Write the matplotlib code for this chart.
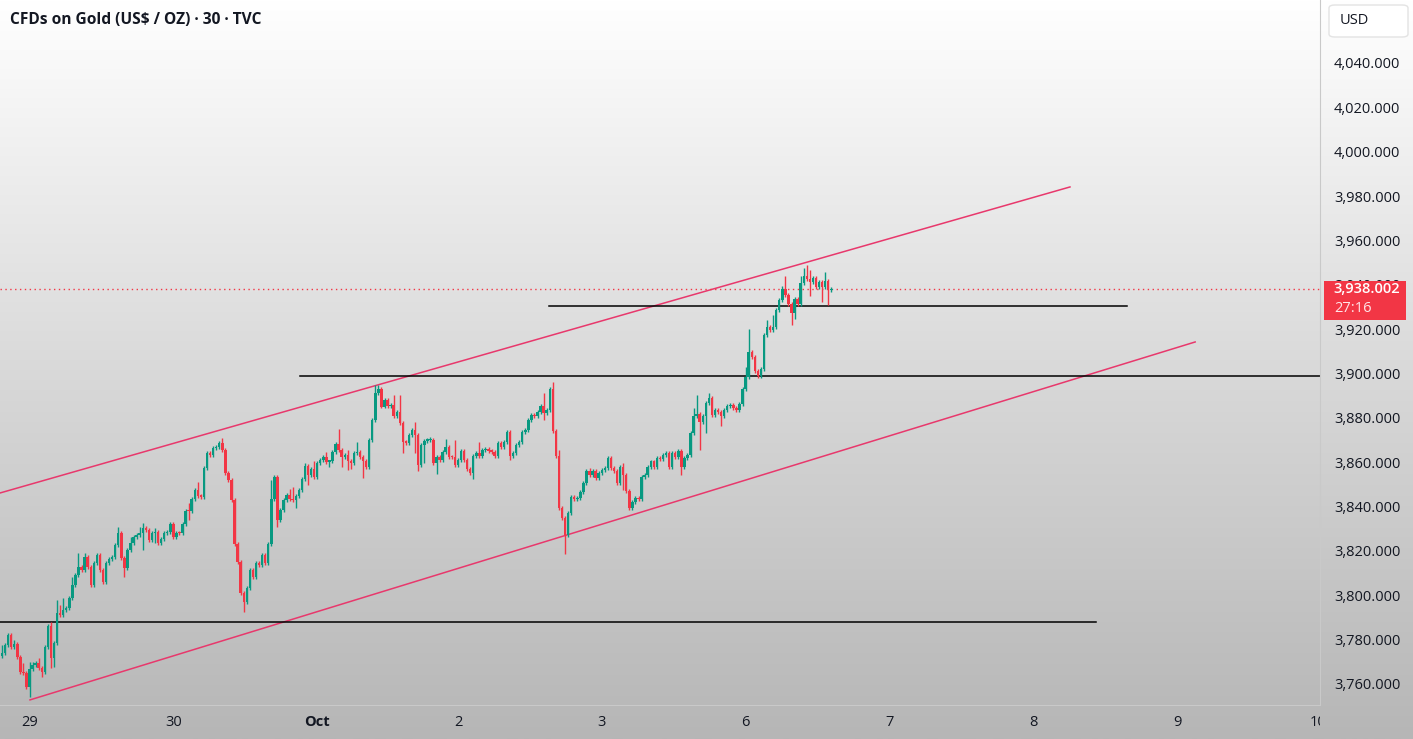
import numpy as np
import matplotlib
matplotlib.use("Agg")
import matplotlib.pyplot as plt
from matplotlib.colors import LinearSegmentedColormap
from matplotlib.patches import FancyBboxPatch, Rectangle
from matplotlib.transforms import blended_transform_factory, Bbox, TransformedBbox

plt.rcParams['font.family'] = ['Open Sans', 'DejaVu Sans']

# 30 min closes (Sep 29 -> Oct 6)
open0 = 3772.6
closes = [
    3773.8, 3777.5, 3782.0, 3776.8, 3778.0, 3772.0, 3765.5, 3764.8, 3758.7, 3766.6,
    3768.5, 3769.6, 3767.0, 3765.5, 3776.8, 3786.1, 3771.5, 3778.3, 3792.1, 3791.1,
    3793.3, 3794.1, 3798.6, 3804.6, 3809.1, 3812.9, 3811.4, 3817.4, 3812.9, 3804.6,
    3814.4, 3818.1, 3811.4, 3806.1, 3814.4, 3816.2, 3817.4, 3822.6, 3827.9, 3816.6,
    3812.1, 3820.4, 3823.4, 3826.4, 3827.1, 3828.2, 3830.2, 3829.4, 3824.9, 3827.9,
    3828.6, 3823.4, 3825.2, 3827.9, 3828.6, 3832.1, 3826.1, 3828.2, 3827.9, 3832.0,
    3838.1, 3838.0, 3843.2, 3847.4, 3844.7, 3844.4, 3857.2, 3864.0, 3863.2, 3866.2,
    3866.7, 3868.8, 3865.5, 3855.0, 3851.9, 3842.9, 3823.1, 3815.1, 3800.8, 3797.1,
    3803.1, 3811.4, 3808.4, 3814.4, 3813.6, 3818.1, 3814.4, 3823.1, 3843.2, 3853.1,
    3833.9, 3838.4, 3842.9, 3845.2, 3843.2, 3842.9, 3844.7, 3847.4, 3852.2, 3858.3,
    3854.2, 3856.8, 3853.4, 3859.5, 3861.0, 3862.2, 3860.2, 3860.3, 3864.8, 3868.2,
    3865.5, 3862.5, 3863.3, 3860.7, 3859.5, 3864.0, 3864.8, 3862.5, 3860.7, 3858.0,
    3870.0, 3879.0, 3891.1, 3892.9, 3885.1, 3888.0, 3885.4, 3885.8, 3880.6, 3882.8,
    3877.6, 3869.3, 3868.8, 3872.3, 3874.5, 3872.3, 3858.5, 3867.8, 3869.7, 3870.0,
    3870.2, 3859.8, 3862.2, 3861.0, 3864.8, 3866.7, 3862.5, 3862.2, 3858.8, 3861.0,
    3865.2, 3861.0, 3856.8, 3855.0, 3862.8, 3864.0, 3862.8, 3865.5, 3865.8, 3865.2,
    3864.8, 3862.8, 3868.5, 3867.0, 3869.3, 3873.6, 3862.8, 3864.0, 3867.8, 3869.3,
    3873.6, 3874.5, 3878.8, 3881.3, 3880.6, 3882.8, 3885.4, 3882.1, 3883.6, 3893.0,
    3874.2, 3862.8, 3839.2, 3834.7, 3827.2, 3837.0, 3844.5, 3843.3, 3844.0, 3846.7,
    3850.5, 3856.2, 3854.3, 3855.8, 3852.8, 3855.3, 3856.5, 3857.3, 3861.8, 3857.3,
    3855.8, 3850.5, 3858.0, 3854.3, 3847.2, 3839.2, 3842.2, 3844.0, 3843.3, 3853.2,
    3854.3, 3858.0, 3860.3, 3858.0, 3861.8, 3861.3, 3863.3, 3864.0, 3858.0, 3864.0,
    3862.2, 3865.2, 3858.0, 3861.8, 3863.3, 3873.3, 3880.6, 3881.8, 3878.3, 3880.6,
    3886.6, 3888.8, 3881.3, 3883.3, 3882.8, 3880.6, 3883.6, 3885.4, 3885.8, 3884.3,
    3883.3, 3886.3, 3892.9, 3898.6, 3909.9, 3907.6, 3901.3, 3898.9, 3901.9, 3917.4,
    3921.1, 3919.6, 3921.1, 3928.7, 3933.2, 3938.0, 3935.4, 3931.4, 3927.2, 3933.5,
    3931.4, 3941.0, 3944.0, 3942.5, 3941.4, 3942.9, 3939.2, 3941.4, 3938.9, 3941.9,
    3937.7, 3938.0,
]

# wick extremes that stick out clearly (candle index: price)
wick_highs = {
    0: 3777.5, 1: 3778.3, 2: 3782.8, 4: 3779.8, 7: 3769.3, 9: 3770.0, 10: 3770.0,
    12: 3771.5, 16: 3788.1, 18: 3797.8, 19: 3795.6, 20: 3798.6, 23: 3808.3,
    25: 3818.9, 27: 3818.9, 38: 3830.9, 42: 3826.4, 45: 3830.9, 46: 3832.4,
    50: 3830.2, 56: 3832.7, 61: 3841.4, 64: 3851.2, 72: 3870.7, 88: 3851.9,
    94: 3847.7, 95: 3848.9, 99: 3859.8, 102: 3860.7, 106: 3864.8, 110: 3874.8,
    113: 3865.5, 116: 3869.3, 122: 3894.8, 123: 3894.8, 128: 3890.3, 130: 3890.3,
    135: 3878.3, 140: 3871.2, 145: 3870.5, 148: 3870.0, 156: 3869.3, 165: 3874.1,
    177: 3891.1, 179: 3893.5, 180: 3896.0, 182: 3865.5, 192: 3857.3, 203: 3859.5,
    226: 3884.3, 227: 3890.3, 231: 3891.1, 243: 3902.8, 244: 3920.1, 250: 3924.1,
    252: 3926.4, 255: 3939.5, 256: 3944.0, 261: 3944.0, 262: 3947.4, 263: 3949.0,
    264: 3946.7, 266: 3944.0, 269: 3945.9,
}
wick_lows = {
    8: 3757.9, 9: 3754.2, 13: 3763.3, 16: 3767.0, 17: 3767.8, 40: 3808.3,
    46: 3820.4, 50: 3823.4, 61: 3833.9, 79: 3792.6, 80: 3797.8, 90: 3830.6,
    96: 3839.2, 100: 3849.7, 107: 3858.0, 111: 3858.0, 113: 3856.5, 114: 3856.8,
    118: 3852.8, 131: 3864.0, 135: 3864.0, 136: 3855.8, 138: 3859.8, 142: 3854.7,
    154: 3852.3, 166: 3861.0, 177: 3879.1, 184: 3818.5, 203: 3847.5, 222: 3854.3,
    228: 3865.5, 230: 3873.0, 235: 3876.3, 258: 3921.9, 259: 3924.4, 264: 3935.0,
    268: 3932.0, 270: 3930.9,
}

day_pos = [9, 56, 103, 149, 196, 243, 290, 337, 384, 430]
day_labels = ['29', '30', 'Oct', '2', '3', '6', '7', '8', '9', '10']

# drawings: (x0, x1, y0, y1)
channel_upper = (-0.65, 349.0, 3846.1, 3984.1)
channel_lower = (9.15, 389.9, 3752.8, 3914.2)
levels = [(3788.0, -0.65, 357.5), (3898.9, 97.4, 431.0), (3930.4, 178.8, 367.6)]

title = "CFDs on Gold (US$ / OZ) · 30 · TVC"
last_label = "3,938.002"
countdown = "27:16"

green = '#089981'
red = '#f23645'
pink = '#e8386c'

W, H = 1413, 739
fig = plt.figure(figsize=(W / 100, H / 100), dpi=100)

# background gradient
bg = fig.add_axes([0, 0, 1, 1], zorder=-10)
grad = np.linspace(0, 1, 256).reshape(-1, 1)
cmap = LinearSegmentedColormap.from_list('bg', ['#ffffff', '#d9d9d9', '#b6b6b6'])
bg.imshow(grad, aspect='auto', cmap=cmap, extent=[0, 1, 0, 1])
bg.axis('off')

ax = fig.add_axes([0, 1 - 705 / H, 1320 / W, 705 / H])
ax.set_facecolor('none')

c = np.array(closes)
o = np.r_[open0, c[:-1]]
x = np.arange(len(c))
hi = np.maximum(o, c) + 0.9
lo = np.minimum(o, c) - 0.9
for k, v in wick_highs.items():
    hi[k] = max(hi[k], v)
for k, v in wick_lows.items():
    lo[k] = min(lo[k], v)
col = np.where(c >= o, green, red)

ax.vlines(x, lo, hi, colors=col, lw=1, zorder=3)
ax.bar(x, np.maximum(np.abs(c - o), 0.6), bottom=np.minimum(o, c), width=0.8,
       color=col, lw=0, zorder=4)

ax.plot(channel_upper[:2], channel_upper[2:], color=pink, lw=1.1, zorder=2)
ax.plot(channel_lower[:2], channel_lower[2:], color=pink, lw=1.1, zorder=2)
for y, x0, x1 in levels:
    ax.plot([x0, x1], [y, y], color='black', lw=1.1, zorder=2)
ax.axhline(c[-1], color=red, lw=1, ls=(0, (1, 2.5)), zorder=2)

ax.set_xlim(-0.65, 430.7)
ax.set_ylim(3750.5, 4068.4)

ax.yaxis.tick_right()
yt = np.arange(3760, 4041, 20)
ax.set_yticks(yt)
ax.set_yticklabels([f"{v:,.3f}" for v in yt])
ax.tick_params(axis='y', length=0, pad=10, labelsize=10.5, colors='#131722')
for lab in ax.get_yticklabels():
    lab.set_horizontalalignment('left')

ax.set_xticks(day_pos)
ax.set_xticklabels(day_labels)
ax.tick_params(axis='x', length=0, pad=7, labelsize=10.5, colors='#131722')
clip = TransformedBbox(Bbox([[0, 0], [1320 / W, 1]]), fig.transFigure)
for lab in ax.get_xticklabels():
    if lab.get_text() == 'Oct':
        lab.set_fontweight('bold')
    lab.set_clip_box(clip)
    lab.set_clip_on(True)

for s in ['top', 'left']:
    ax.spines[s].set_visible(False)
ax.spines['bottom'].set_color('#c9c9c9')
ax.spines['right'].set_color('#c9c9c9')

# last price tag
tr = blended_transform_factory(ax.transAxes, ax.transData)
ax.add_patch(Rectangle((1.003, c[-1] - 13.9), 0.062, 17.6, transform=tr,
                       facecolor=red, edgecolor='none', clip_on=False, zorder=6))
ax.text(1.0105, c[-1], last_label, transform=tr, color='white', fontsize=10.5,
        fontweight='semibold', va='center', ha='left', clip_on=False, zorder=7)
ax.text(1.0105, c[-1] - 8.6, countdown, transform=tr, color='#ffe5e8', fontsize=10.5,
        va='center', ha='left', clip_on=False, zorder=7)

# header
fig.text(10 / W, 1 - 20 / H, title, fontsize=11.2, fontweight='bold',
         color='#131722', va='center', ha='left')
fig.patches.append(FancyBboxPatch((1329 / W, 1 - 37 / H), 79 / W, 32 / H,
                                  boxstyle='round,pad=0,rounding_size=0.004',
                                  transform=fig.transFigure, facecolor='white',
                                  edgecolor='#e3e3e3', lw=1))
fig.text(1340 / W, 1 - 21 / H, 'USD', fontsize=10.5, color='#131722',
         va='center', ha='left')

fig.savefig('out.png', dpi=100)
